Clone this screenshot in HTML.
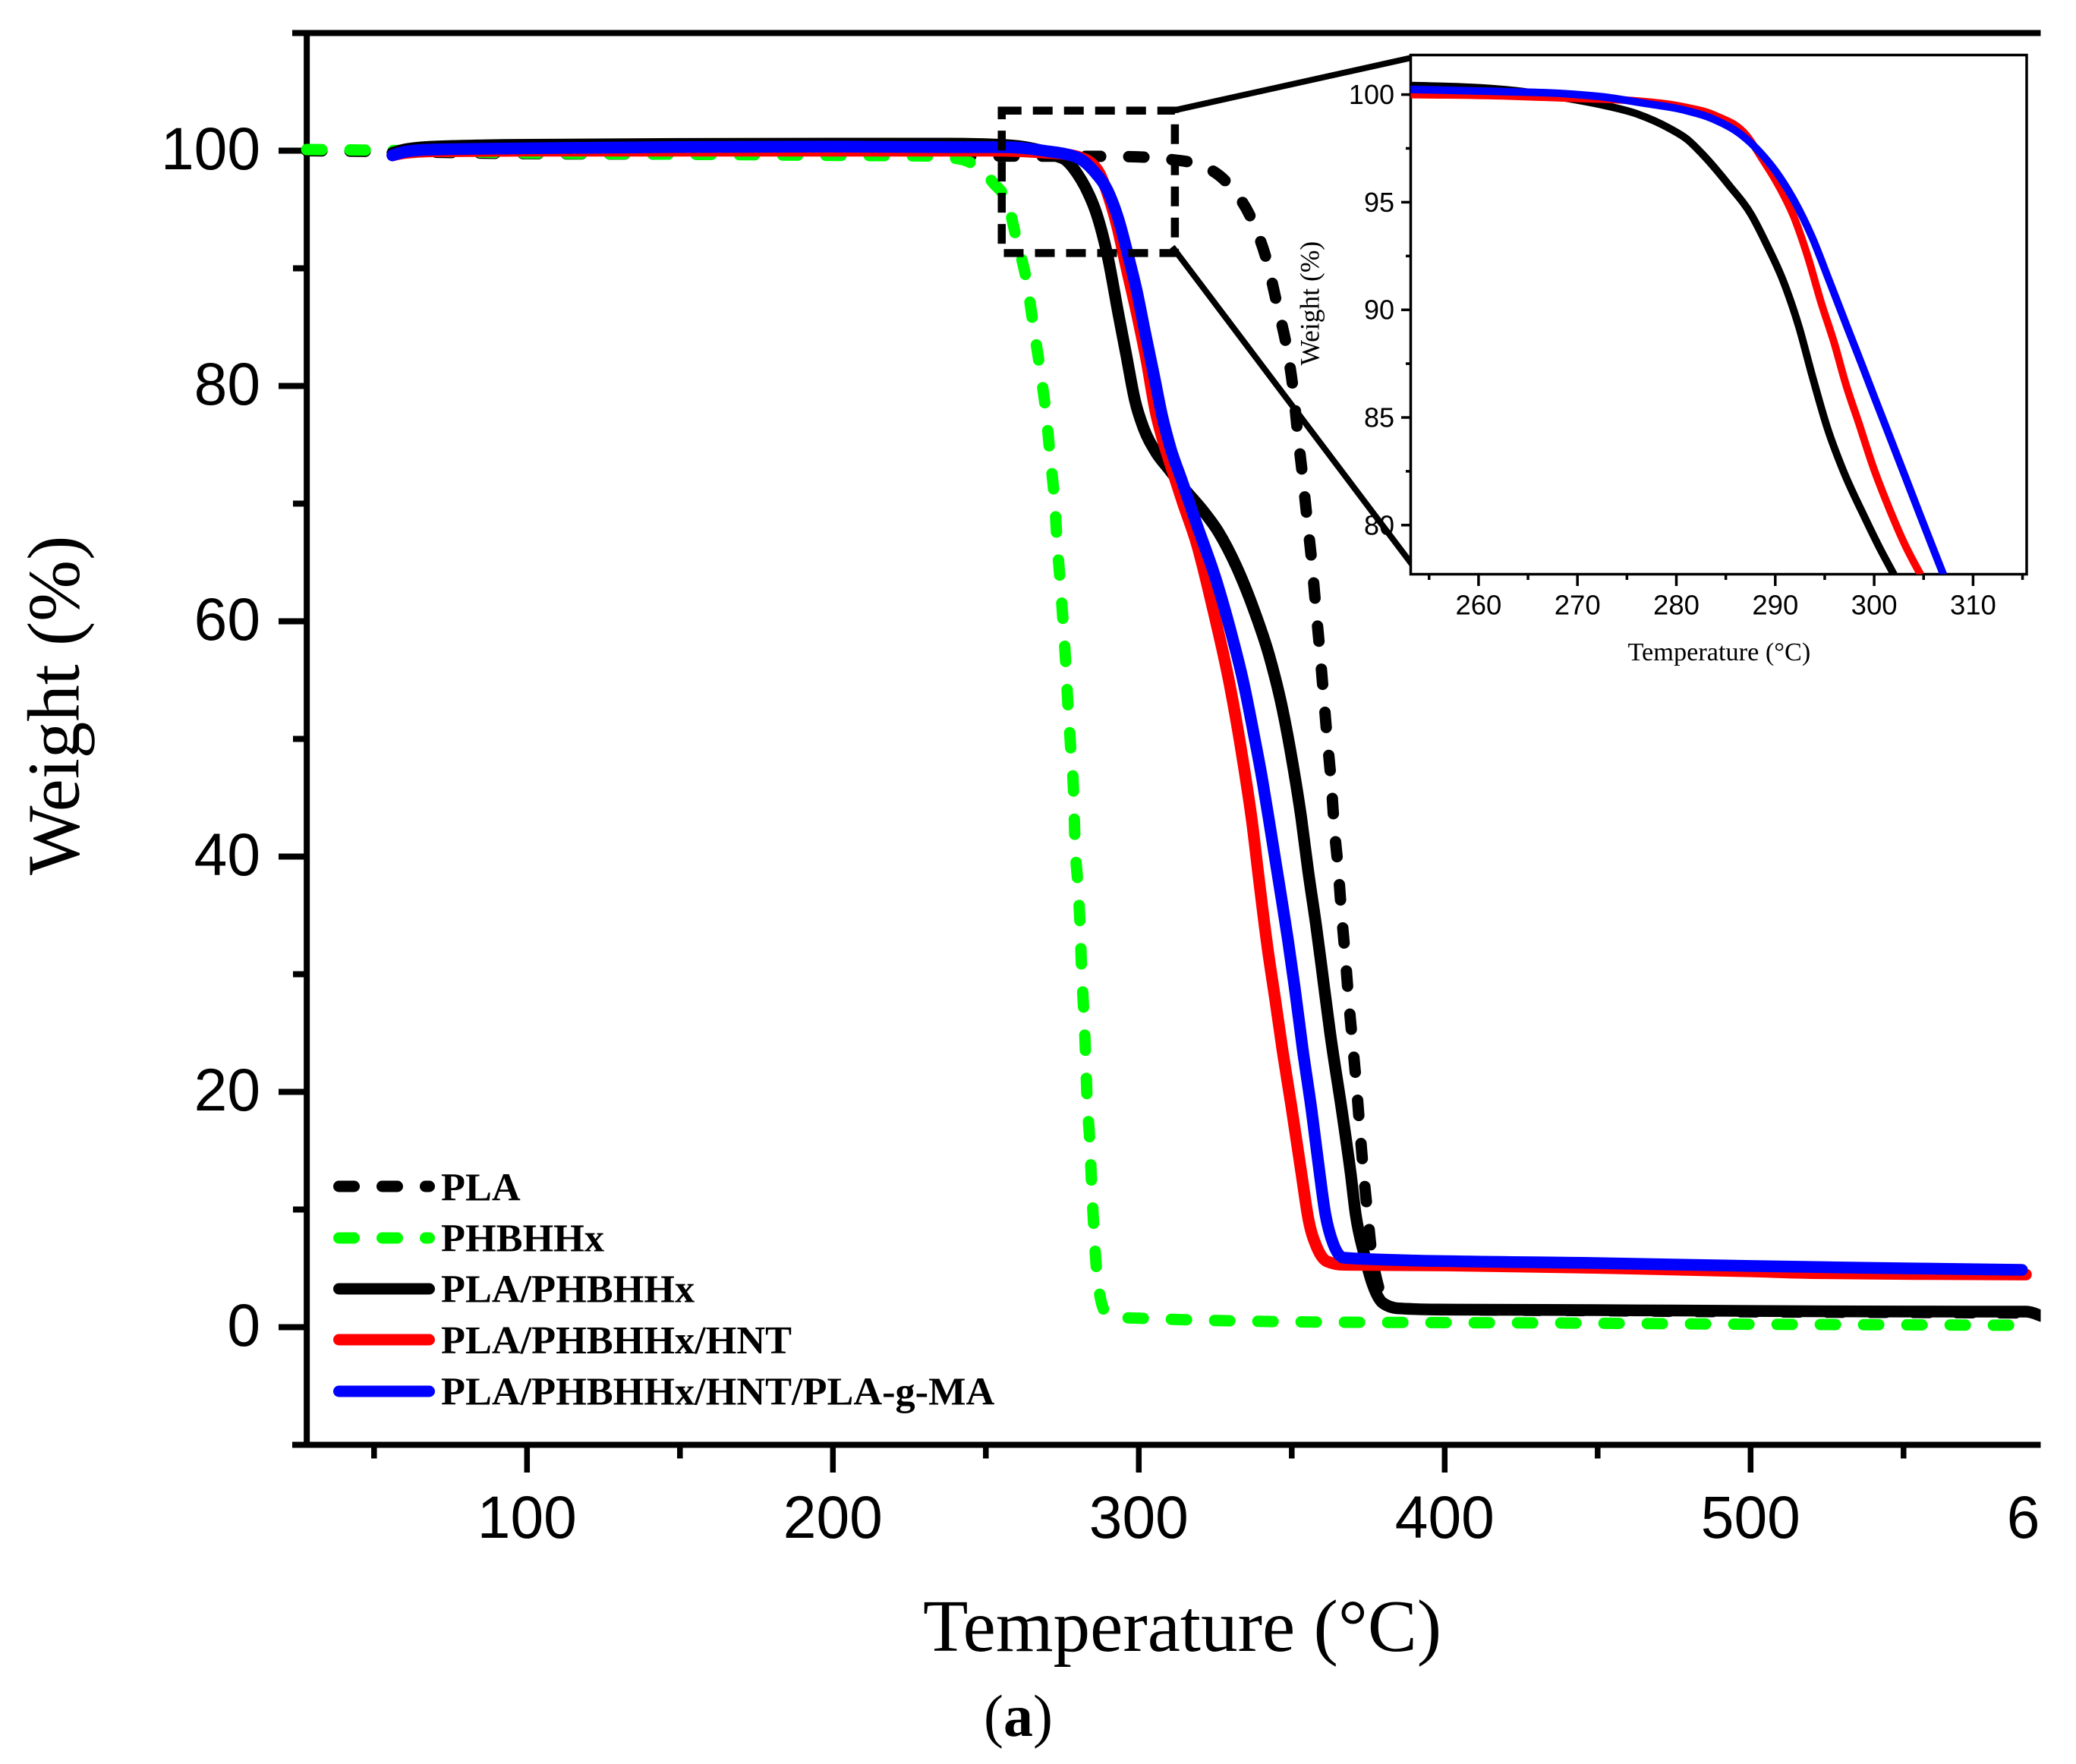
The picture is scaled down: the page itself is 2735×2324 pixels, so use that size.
<!DOCTYPE html>
<html lang="en">
<head>
<meta charset="utf-8">
<title>TGA weight vs temperature</title>
<style>
html,body{margin:0;padding:0;background:#fff;}
svg{display:block;}
.sans{font-family:"Liberation Sans",Arial,sans-serif;fill:#000;}
.serif{font-family:"Liberation Serif","Times New Roman",serif;fill:#000;}
</style>
</head>
<body>
<svg id="chart" xmlns="http://www.w3.org/2000/svg" width="2735" height="2324" viewBox="0 0 2735 2324">
  <defs>
    <clipPath id="main-clip"><rect x="0" y="0" width="2688.5" height="2324"/></clipPath>
    <clipPath id="inset-clip"><rect x="1858.5" y="72.5" width="811.5" height="684"/></clipPath>
  </defs>
  <rect x="0" y="0" width="2735" height="2324" fill="#fff"/>
  <g id="main-axes" clip-path="url(#main-clip)"></g>
  <g id="main-series" clip-path="url(#main-clip)" fill="none" stroke-linejoin="round"></g>
  <g id="zoom-box-layer"></g>
  <text class="serif" font-size="97" transform="translate(103.5 1153) rotate(-90)">Weight (%)</text>
  <text class="serif" font-size="97.3" x="1216" y="2175">Temperature (°C)</text>
  <text class="serif" font-size="78" x="1296" y="2287">(<tspan font-weight="bold">a</tspan>)</text>

  <g class="serif" font-size="52.3" font-weight="bold" stroke-linecap="round">
    <g>
      <line x1="446.5" y1="1563" x2="565.5" y2="1563" stroke="#000" stroke-width="15" stroke-dasharray="20 37"/>
      <text x="581" y="1581.7">PLA</text>
    </g>
    <g>
      <line x1="446.5" y1="1631" x2="565.5" y2="1631" stroke="#00ff00" stroke-width="15" stroke-dasharray="20 37"/>
      <text x="581" y="1648.5">PHBHHx</text>
    </g>
    <g>
      <line x1="446.5" y1="1698" x2="565.5" y2="1698" stroke="#000" stroke-width="15"/>
      <text x="581" y="1715.7">PLA/PHBHHx</text>
    </g>
    <g>
      <line x1="446.5" y1="1765" x2="565.5" y2="1765" stroke="#ff0000" stroke-width="15"/>
      <text x="581" y="1783">PLA/PHBHHx/HNT</text>
    </g>
    <g>
      <line x1="446.5" y1="1833" x2="565.5" y2="1833" stroke="#0000ff" stroke-width="15"/>
      <text x="581" y="1850.7">PLA/PHBHHx/HNT/PLA-g-MA</text>
    </g>
  </g>

  <g id="inset">
    <rect x="1858.5" y="72.5" width="811.5" height="684" fill="#fff" stroke="#000" stroke-width="3.5"/>
    <g id="inset-series" clip-path="url(#inset-clip)" fill="none" stroke-linejoin="round"></g>
    <g id="inset-axes"></g>
    <text class="serif" font-size="34.3" x="2144.5" y="870">Temperature (°C)</text>
    <text class="serif" font-size="35.5" transform="translate(1737.5 481.5) rotate(-90)">Weight (%)</text>
  </g>
</svg>

<script>
// ---- Main chart data (temperature in °C, weight in %) ----
const plaTemp = [28,60,100,150,200,249,295.5,308.8,319.8,329.8,337,342,345.3,348.4,350.5,352,353.6,355.1,356.6,357.9,359.2,360.4,361.6,362.9,363.9,365.2,366.3,367.5,368.6,369.9,371.2,372.3,373.5,374.9,375.9,378.2,381.5,385,400,450,500,550,595];
const plaWeight = [100,99.9,99.75,99.7,99.65,99.55,99.5,99.3,98.8,97,94.1,90.5,86.8,83.2,79.6,75.8,72.2,68.5,64.9,61.1,57.4,53.7,50,46.3,42.5,38.9,35.1,31.5,27.8,24.1,20.4,16.7,13,9.4,6.8,3.6,1.85,1.6,1.5,1.4,1.3,1.25,1.2];

const phbTemp = [28,60,100,150,200,230,241.3,250,252.3,257.3,260,263.4,265.6,267.8,269.7,271.1,272.5,273.4,274.2,275.2,276.1,276.9,277.8,278.7,279.1,280,280.8,281.3,282,282.6,283.1,284,284.6,285.3,286.3,289,292,301.7,358.2,442.4,500,550,591];
const phbWeight = [100.1,100,99.8,99.7,99.6,99.55,99.3,98,97.3,95.4,92.5,88.8,85,81.3,77.6,73.8,70.1,66.3,63.7,60.1,56.5,52.6,49,45.2,41.5,37.9,34.2,30.4,26.8,23.1,19.4,15.7,12,8.4,4.6,1.3,0.85,0.75,0.44,0.35,0.25,0.2,0.16];

const blendTemp = [56,60,70,100,200,238,255,268.8,272.4,276.1,280,282.5,286.6,290,293.2,296,298.8,301.6,305.5,309.9,315.4,321,326,332,337.6,342.6,347,350.3,353.1,355.3,358.1,360.3,362.5,366.5,369.3,370.9,373.7,376.5,379.8,384.8,397,448.9,500,550,590,595];
const blendWeight = [99.8,100.1,100.35,100.5,100.6,100.6,100.5,99.95,99.6,99.2,98,96.9,94.3,90.8,86.3,82.5,78.7,76.4,74.4,72.9,71.1,69.4,67.6,64.6,61,57.1,52.5,47.9,43.3,38.9,33.9,29.5,25.1,18.2,13,9.6,6.2,3.6,2.05,1.6,1.5,1.45,1.38,1.33,1.32,0.95];

const hntTemp = [56,60,70,100,200,253,262,268.8,276,280.7,284,287.1,290,293,296,299.5,302.5,305.5,308,311,314.5,318.8,324.3,329.8,334.2,337,339.3,342,344.8,347,349.8,353.2,355.5,358.2,361.5,367,400,449,500,520,590];
const hntWeight = [99.6,99.8,99.95,100,100,100,99.94,99.84,99.7,99.43,99.03,98.1,96.2,93.5,90,86,82.2,77.8,75.3,72.8,70,66.7,61,54.5,47.9,43,38,32.4,27.5,23.5,18.9,13,9.1,6.8,5.6,5.3,5.25,5.05,4.75,4.6,4.48];

const compTemp = [56,60,65,70,100,200,238,255.6,268.9,280,285.5,290,293.2,296.6,299.4,302.1,304.9,307.6,310.4,314.3,318.7,325.4,329.8,334.3,337.6,340.4,343.1,345.8,348.7,350.9,353.6,356.5,358.7,361,363.7,367,385.9,448.7,500,550,588.7];
const compWeight = [99.6,99.9,100.05,100.1,100.2,100.35,100.3,100.3,100,99.4,98.2,96.5,94.3,91,88,84.5,81,77.5,74.7,71.8,68.4,63.4,59.4,54.7,50.4,46.5,42.2,37.8,33,29,23.6,18.4,13.9,9.6,7,5.9,5.7,5.45,5.2,5,4.87];

const xMajorTicks = [100,200,300,400,500,600];
const xMinorTicks = [50,150,250,350,450,550];
const yMajorTicks = [0,20,40,60,80,100];
const yMinorTicks = [-10,10,30,50,70,90,110];

// ---- Inset data ----
const insetBlendTemp = [253.1,262.4,268.8,272.4,276.1,279.3,281.1,282.7,285.3,287.6,289.1,290.8,292.4,293.7,295.3,296.9,299,300.6,302];
const insetBlendWeight = [100.42,100.24,99.84,99.53,99.09,98.43,97.92,97.2,95.8,94.4,93.06,91.35,89.2,87,84.46,82.5,80.4,78.9,77.7];
const insetHntTemp = [253.1,262.4,268.8,276.1,280.7,283.9,287.1,288.7,290.3,291.9,293.3,294.6,296,297.1,298.5,299.9,301.5,303.1,304.7];
const insetHntWeight = [100,99.94,99.84,99.7,99.43,99.03,98.1,97,95.8,94.3,92.45,90.4,88.4,86.6,84.66,82.7,80.8,79.1,77.7];
const insetCompTemp = [253.1,262.4,268.8,272.4,277,280.7,283.9,286.6,288.5,290.1,291.9,293.7,295.5,297.1,298.8,300.1,301.5,303.1,304.7,306.1,307];
const insetCompWeight = [100.24,100.14,100.04,99.9,99.58,99.29,98.83,98.12,97.3,96.4,95.08,93.4,91.3,89.4,87.4,85.85,84.2,82.3,80.4,78.75,77.7];

const insetXMajorTicks = [260,270,280,290,300,310];
const insetXMinorTicks = [255,265,275,285,295,305,315];
const insetYMajorTicks = [80,85,90,95,100];
const insetYMinorTicks = [82.5,87.5,92.5,97.5];

const zoomTempRange = [255.2,311.8];
const zoomWeightRange = [91.3,103.4];

// ---- Axis functions ----
function xMain(t){ return 1097.3 + (t - 200) * 4.03; }
function yMain(v){ return 1748.5 - v * 15.5; }
function xInset(t){ return 1947.9 + (t - 260) * 13.03; }
function yInset(v){ return 124.6 + (100 - v) * 28.36; }

const NS = 'http://www.w3.org/2000/svg';
function make(tag, attrs, parent, text){
  const el = document.createElementNS(NS, tag);
  for (const k in attrs) el.setAttribute(k, attrs[k]);
  if (text !== undefined) el.textContent = text;
  parent.appendChild(el);
  return el;
}
// Monotone cubic path through the data points (no overshoot at the sharp knees)
function pathFrom(xs, ys, fx, fy){
  const px = xs.map(fx), py = ys.map(fy), n = px.length;
  const h = [], s = [], m = [];
  for (let i = 0; i < n - 1; i++){
    h[i] = px[i+1] - px[i];
    s[i] = (py[i+1] - py[i]) / h[i];
  }
  for (let i = 1; i < n - 1; i++){
    const p = (s[i-1] * h[i] + s[i] * h[i-1]) / (h[i-1] + h[i]);
    m[i] = (Math.sign(s[i-1]) + Math.sign(s[i])) * Math.min(Math.abs(s[i-1]), Math.abs(s[i]), 0.5 * Math.abs(p));
  }
  m[0] = (3 * s[0] - m[1]) / 2;
  m[n-1] = (3 * s[n-2] - m[n-2]) / 2;
  let d = 'M' + px[0].toFixed(1) + ' ' + py[0].toFixed(1);
  for (let i = 0; i < n - 1; i++){
    const t = h[i] / 3;
    d += ' C' + (px[i] + t).toFixed(1) + ' ' + (py[i] + m[i] * t).toFixed(1) + ' ' +
         (px[i+1] - t).toFixed(1) + ' ' + (py[i+1] - m[i+1] * t).toFixed(1) + ' ' +
         px[i+1].toFixed(1) + ' ' + py[i+1].toFixed(1);
  }
  return d;
}

const mainAxes = document.getElementById('main-axes');
const mainSeries = document.getElementById('main-series');
const insetAxes = document.getElementById('inset-axes');
const insetSeries = document.getElementById('inset-series');
const zoomLayer = document.getElementById('zoom-box-layer');

// Main axis lines
const mainLeft = xMain(28), mainRight = 2688.5;
const axisLeft = make('line', {x1:mainLeft, y1:yMain(110)-4, x2:mainLeft, y2:yMain(-10)+4, stroke:'#000', 'stroke-width':8}, mainAxes);


const axisBottom = make('line', {x1:385, y1:yMain(-10), x2:mainRight, y2:yMain(-10), stroke:'#000', 'stroke-width':8}, mainAxes);


const axisTop = make('line', {x1:385, y1:yMain(110), x2:mainRight, y2:yMain(110), stroke:'#000', 'stroke-width':8}, mainAxes);



// Main x ticks
xMajorTicks.forEach(function(t){
  const tick = make('line', {x1:xMain(t), y1:yMain(-10), x2:xMain(t), y2:1940, stroke:'#000', 'stroke-width':7.5}, mainAxes);
  
  
  const label = make('text', {x:xMain(t), y:2026, 'text-anchor':'middle', 'font-size':78.5, class:'sans'}, mainAxes, String(t));
  
  
});
xMinorTicks.forEach(function(t){
  const tick = make('line', {x1:xMain(t), y1:yMain(-10), x2:xMain(t), y2:1921.5, stroke:'#000', 'stroke-width':7.5}, mainAxes);
  
  
});

// Main y ticks
yMajorTicks.forEach(function(v){
  const tick = make('line', {x1:367, y1:yMain(v), x2:mainLeft, y2:yMain(v), stroke:'#000', 'stroke-width':8}, mainAxes);
  
  
  const label = make('text', {x:343, y:yMain(v)+24.5, 'text-anchor':'end', 'font-size':78.5, class:'sans'}, mainAxes, String(v));
  
  
});
yMinorTicks.forEach(function(v){
  const tick = make('line', {x1:386, y1:yMain(v), x2:mainLeft, y2:yMain(v), stroke:'#000', 'stroke-width':8}, mainAxes);
  
  
});

// Main series
const linePla = make('path', {d:pathFrom(plaTemp, plaWeight, xMain, yMain), stroke:'#000', 'stroke-width':15, 'stroke-dasharray':'20 37', 'stroke-linecap':'round'}, mainSeries);


const linePhb = make('path', {d:pathFrom(phbTemp, phbWeight, xMain, yMain), stroke:'#00ff00', 'stroke-width':15, 'stroke-dasharray':'20 37', 'stroke-linecap':'round'}, mainSeries);


const lineBlend = make('path', {d:pathFrom(blendTemp, blendWeight, xMain, yMain), stroke:'#000', 'stroke-width':15.5, 'stroke-linecap':'round'}, mainSeries);


const lineHnt = make('path', {d:pathFrom(hntTemp, hntWeight, xMain, yMain), stroke:'#ff0000', 'stroke-width':15.5, 'stroke-linecap':'round'}, mainSeries);


const lineComp = make('path', {d:pathFrom(compTemp, compWeight, xMain, yMain), stroke:'#0000ff', 'stroke-width':15.5, 'stroke-linecap':'round'}, mainSeries);



// Zoom callout box and connectors
const boxL = xMain(zoomTempRange[0]), boxR = xMain(zoomTempRange[1]);
const boxT = yMain(zoomWeightRange[1]), boxB = yMain(zoomWeightRange[0]);
const zoomBox = make('path', {d:'M'+boxL+' '+boxT+' H'+boxR+' V'+boxB+' H'+boxL+' Z', fill:'none', stroke:'#000', 'stroke-width':10.5, 'stroke-dasharray':'26 15'}, zoomLayer);


const connA = make('line', {x1:boxR-3, y1:boxT, x2:1860, y2:76, stroke:'#000', 'stroke-width':8, 'stroke-linecap':'square'}, zoomLayer);


const connB = make('line', {x1:boxR-1, y1:boxB-5, x2:1862, y2:746, stroke:'#000', 'stroke-width':8, 'stroke-linecap':'square'}, zoomLayer);



// Inset ticks
insetXMajorTicks.forEach(function(t){
  const tick = make('line', {x1:xInset(t), y1:756.5, x2:xInset(t), y2:772, stroke:'#000', 'stroke-width':3.5}, insetAxes);
  
  
  const label = make('text', {x:xInset(t), y:809.5, 'text-anchor':'middle', 'font-size':36.5, class:'sans'}, insetAxes, String(t));
  
  
});
insetXMinorTicks.forEach(function(t){
  const tick = make('line', {x1:xInset(t), y1:756.5, x2:xInset(t), y2:764, stroke:'#000', 'stroke-width':3.5}, insetAxes);
  
  
});
insetYMajorTicks.forEach(function(v){
  const tick = make('line', {x1:1846, y1:yInset(v), x2:1858.5, y2:yInset(v), stroke:'#000', 'stroke-width':3.5}, insetAxes);
  
  
  const label = make('text', {x:1837, y:yInset(v)+12.5, 'text-anchor':'end', 'font-size':36, class:'sans'}, insetAxes, String(v));
  
  
});
insetYMinorTicks.forEach(function(v){
  const tick = make('line', {x1:1852, y1:yInset(v), x2:1858.5, y2:yInset(v), stroke:'#000', 'stroke-width':3.5}, insetAxes);
  
  
});

// Inset series
const insetBlend = make('path', {d:pathFrom(insetBlendTemp, insetBlendWeight, xInset, yInset), stroke:'#000', 'stroke-width':10}, insetSeries);


const insetHnt = make('path', {d:pathFrom(insetHntTemp, insetHntWeight, xInset, yInset), stroke:'#ff0000', 'stroke-width':10}, insetSeries);


const insetComp = make('path', {d:pathFrom(insetCompTemp, insetCompWeight, xInset, yInset), stroke:'#0000ff', 'stroke-width':10}, insetSeries);


</script>
</body>
</html>
